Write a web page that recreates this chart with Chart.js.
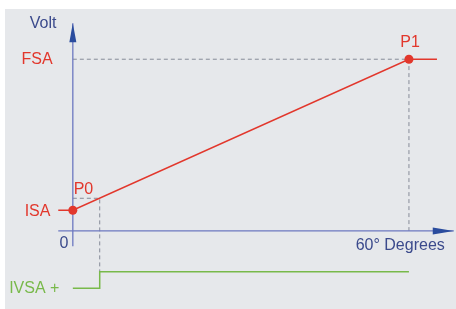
<!DOCTYPE html>
<html><head><meta charset="utf-8">
<script src="https://cdn.jsdelivr.net/npm/chart.js@4/dist/chart.umd.min.js"></script>
<style>html,body{margin:0;padding:0;background:#fff;}canvas{display:block;}</style>
</head><body>
<canvas id="c" width="456" height="309"></canvas>
<script>
// ---- data (degrees on x, volts on y, arbitrary units) ----
const pointNames = ['ISA', 'P0', 'P1'];
const pointDegrees = [0, 4.8, 60];
const pointVolts = [1.2, 1.9, 10];
const leadIn = -2.6;     // red trace starts left of origin
const leadOut = 65;      // red trace continues after P1
const ivsaLevels = [-3.34, -2.38]; // low, high
const xAxisExtent = [-2.6, 68];
const yAxisExtent = [-0.9, 12.1];

const RED = '#e2372c', GREEN = '#78b94a', DASH = '#868b98', AXIS = '#6c78c0', ARROW = '#2a4c9e', TXT = '#3b4a8c';

const redTrace = [
  {x: leadIn, y: pointVolts[0]},
  {x: pointDegrees[0], y: pointVolts[0]},
  {x: pointDegrees[2], y: pointVolts[2]},
  {x: leadOut, y: pointVolts[2]}
];
const greenTrace = [
  {x: pointDegrees[0], y: ivsaLevels[0]},
  {x: pointDegrees[1], y: ivsaLevels[0]},
  {x: pointDegrees[1], y: ivsaLevels[1]},
  {x: pointDegrees[2], y: ivsaLevels[1]}
];
const dashP1 = [
  {x: pointDegrees[0], y: pointVolts[2]},
  {x: pointDegrees[2], y: pointVolts[2]},
  {x: pointDegrees[2], y: 0}
];
const dashP0 = [
  {x: pointDegrees[0], y: pointVolts[1]},
  {x: pointDegrees[1], y: pointVolts[1]},
  {x: pointDegrees[1], y: ivsaLevels[1]}
];
const xAxisLine = [{x: xAxisExtent[0], y: 0}, {x: xAxisExtent[1], y: 0}];
const yAxisLine = [{x: 0, y: yAxisExtent[0]}, {x: 0, y: yAxisExtent[1]}];

const labels = [
  {text: 'Volt', x: -5.3, y: 12.05, color: TXT, align: 'center'},
  {text: 'FSA', x: -3.6, y: 10, color: RED, align: 'right'},
  {text: 'ISA', x: -4.0, y: 1.15, color: RED, align: 'right'},
  {text: 'P0', x: 1.9, y: 2.4, color: RED, align: 'center'},
  {text: 'P1', x: 60.2, y: 10.95, color: RED, align: 'center'},
  {text: '0', x: -1.6, y: -0.75, color: TXT, align: 'center'},
  {text: '60° Degrees', x: 66.4, y: -0.85, color: TXT, align: 'right'},
  {text: 'IVSA +', x: -2.4, y: -3.35, color: GREEN, align: 'right'}
];

const bgPlugin = {
  id: 'bg',
  beforeDraw(chart) {
    const ctx = chart.ctx;
    ctx.save();
    ctx.fillStyle = '#ffffff';
    ctx.fillRect(0, 0, chart.width, chart.height);
    ctx.fillStyle = '#e6e8eb';
    ctx.fillRect(5, 9, chart.width - 5, chart.height - 9);
    ctx.restore();
  }
};

const decoPlugin = {
  id: 'deco',
  afterDatasetsDraw(chart) {
    const ctx = chart.ctx, xs = chart.scales.x, ys = chart.scales.y;
    ctx.save();
    // arrowheads
    ctx.fillStyle = ARROW;
    const tx = xs.getPixelForValue(0), ty = ys.getPixelForValue(yAxisExtent[1]);
    ctx.beginPath();
    ctx.moveTo(tx, ty); ctx.lineTo(tx - 3.5, ty + 19); ctx.lineTo(tx + 3.5, ty + 19); ctx.closePath(); ctx.fill();
    const ax = xs.getPixelForValue(xAxisExtent[1]), ay = ys.getPixelForValue(0);
    ctx.beginPath();
    ctx.moveTo(ax, ay); ctx.lineTo(ax - 21, ay - 3.5); ctx.lineTo(ax - 21, ay + 3.5); ctx.closePath(); ctx.fill();
    // labels
    ctx.font = '16px "Liberation Sans", Arial, sans-serif';
    ctx.textBaseline = 'middle';
    labels.forEach(l => {
      ctx.fillStyle = l.color;
      ctx.textAlign = l.align;
      ctx.fillText(l.text, xs.getPixelForValue(l.x), ys.getPixelForValue(l.y));
    });
    ctx.restore();
  }
};

new Chart(document.getElementById('c'), {
  type: 'scatter',
  data: {
    datasets: [
      {data: redTrace, showLine: true, borderColor: RED, borderWidth: 1.6, pointRadius: [0, 4.5, 4.5, 0],
       pointBackgroundColor: RED, pointBorderWidth: 0, order: 0},
      {data: greenTrace, showLine: true, borderColor: GREEN, borderWidth: 1.5, pointRadius: 0, order: 1},
      {data: xAxisLine, showLine: true, borderColor: AXIS, borderWidth: 1.3, pointRadius: 0, order: 2},
      {data: yAxisLine, showLine: true, borderColor: AXIS, borderWidth: 1.3, pointRadius: 0, order: 2},
      {data: dashP1, showLine: true, borderColor: DASH, borderWidth: 1, borderDash: [4, 3], pointRadius: 0, order: 3},
      {data: dashP0, showLine: true, borderColor: DASH, borderWidth: 1, borderDash: [4, 3], pointRadius: 0, order: 3}
    ]
  },
  options: {
    responsive: false,
    animation: false,
    layout: {padding: 0},
    plugins: {legend: {display: false}, tooltip: {enabled: false}},
    scales: {
      x: {type: 'linear', display: false, min: -13, max: 68.4},
      y: {type: 'linear', display: false, min: -4.55, max: 13.45}
    }
  },
  plugins: [bgPlugin, decoPlugin]
});
</script>
</body></html>
